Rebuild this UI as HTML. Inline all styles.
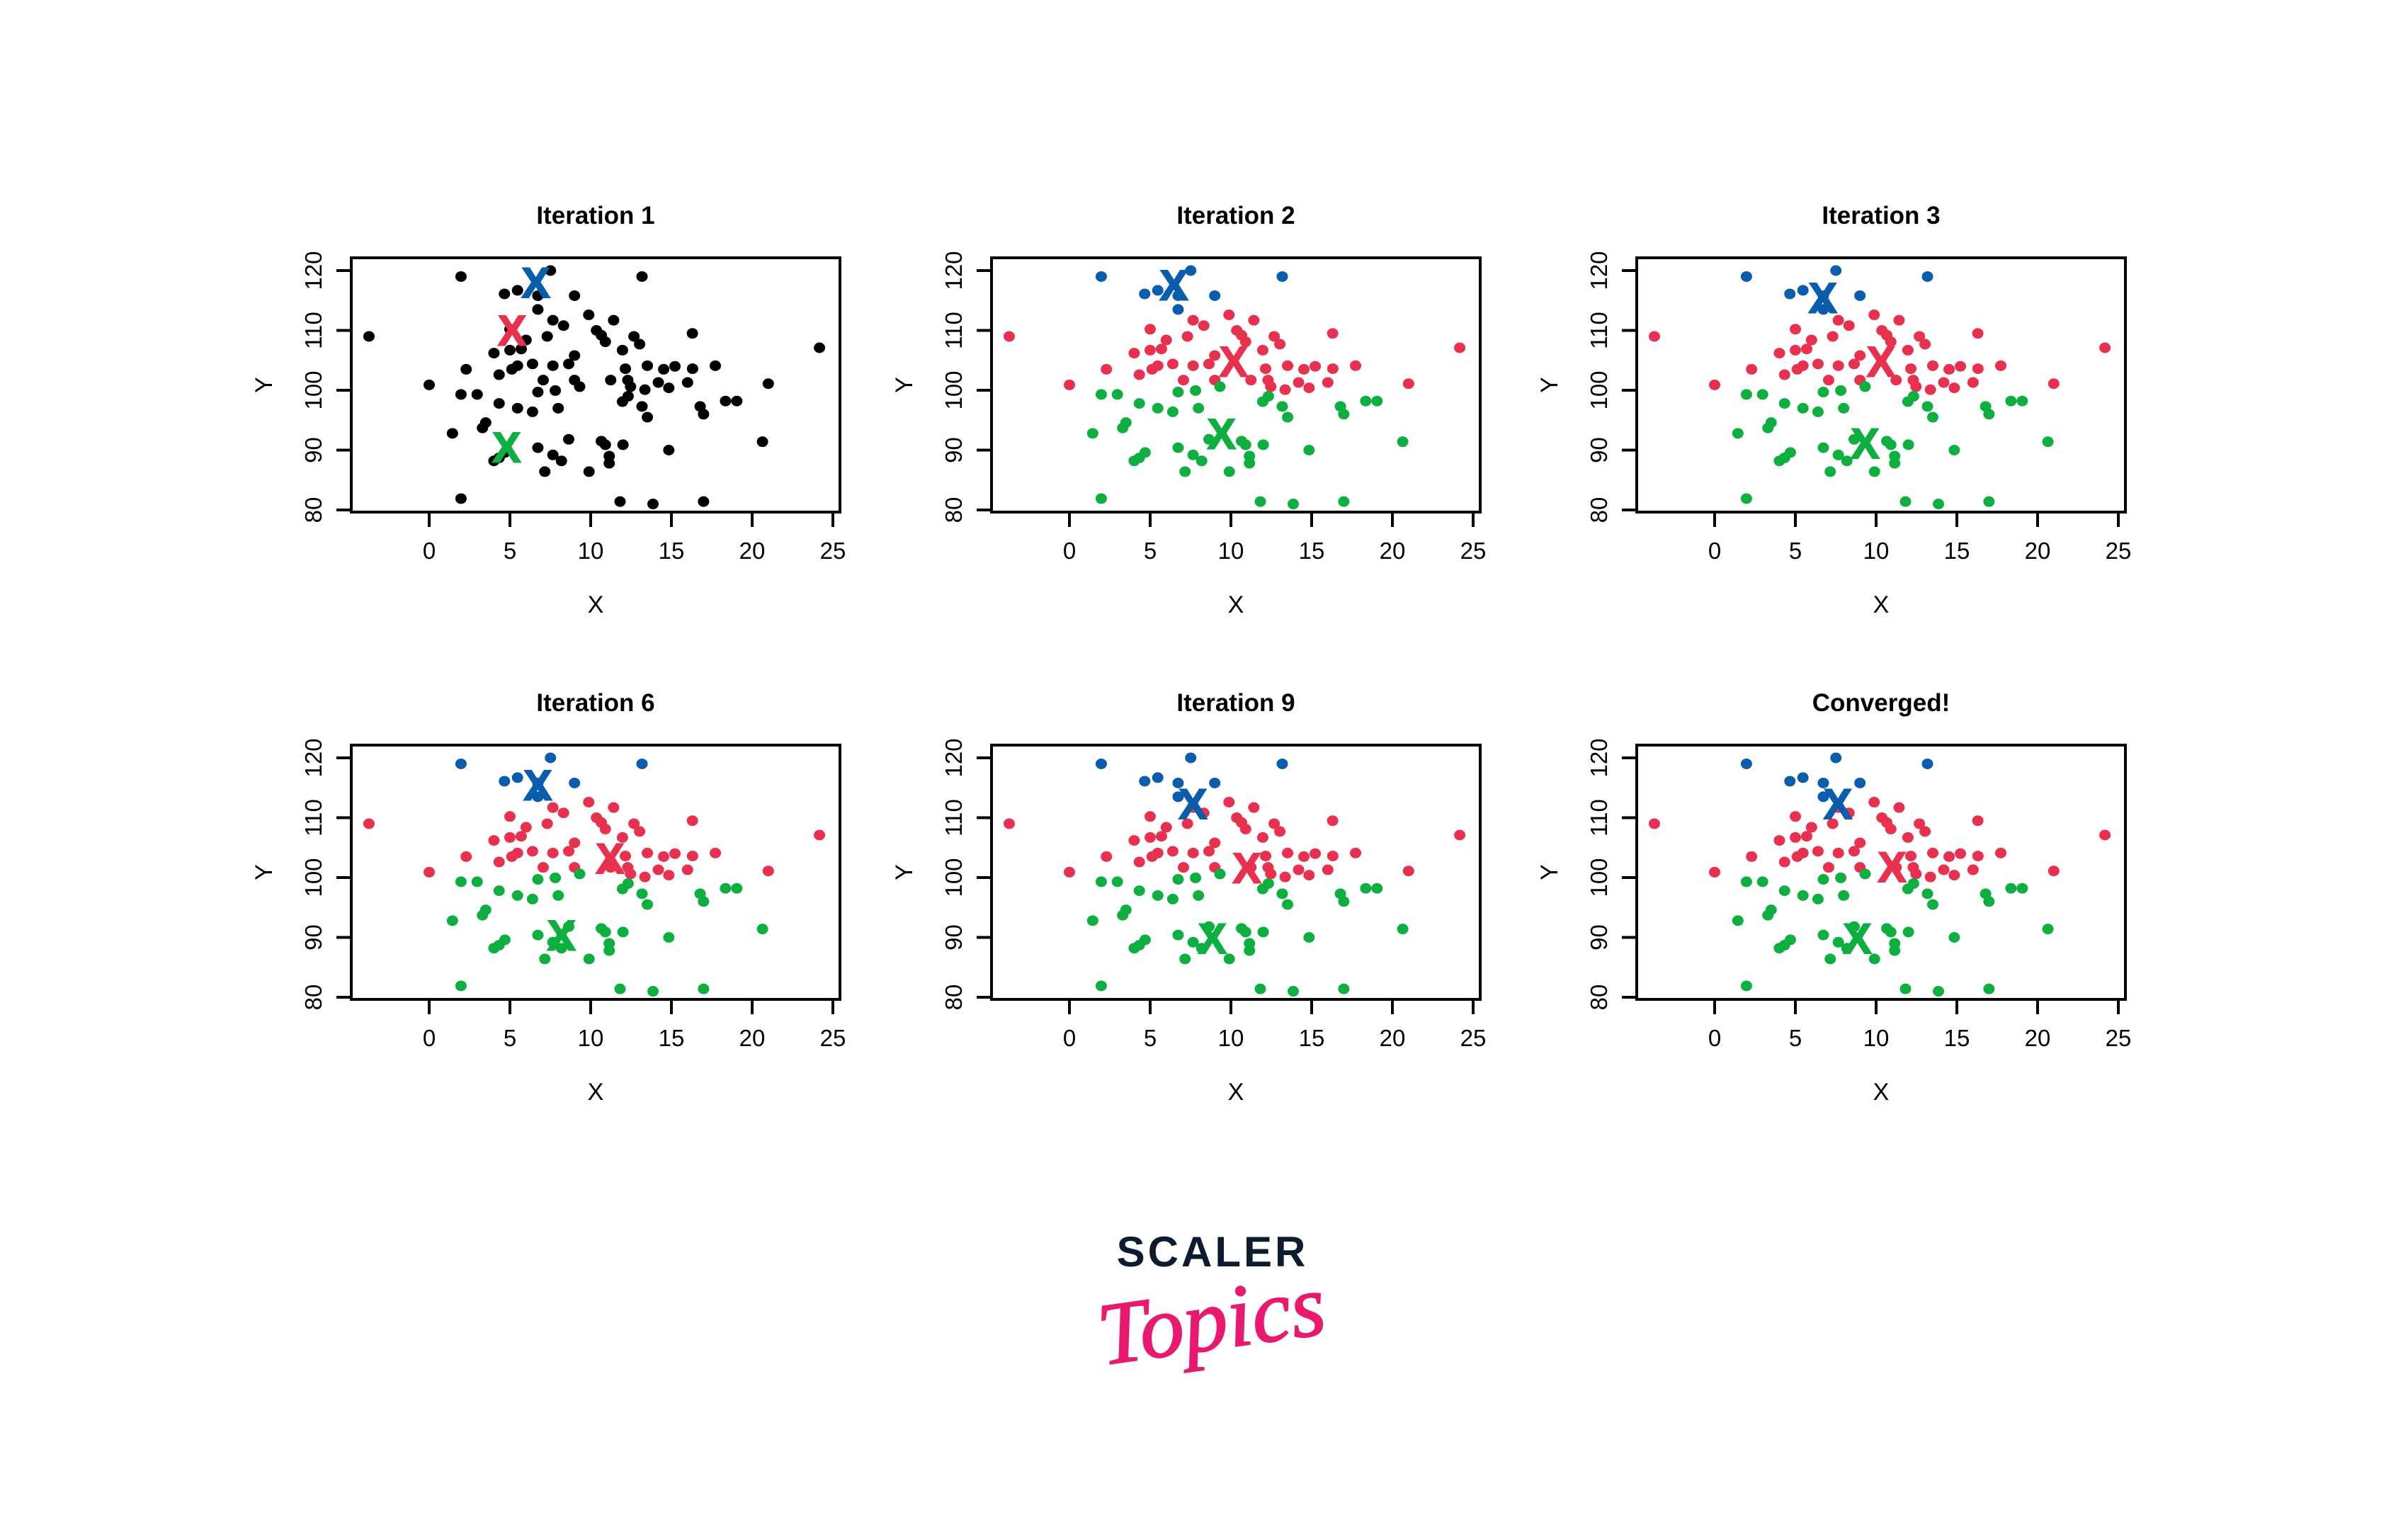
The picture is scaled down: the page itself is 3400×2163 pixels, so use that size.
<!DOCTYPE html>
<html><head><meta charset="utf-8"><style>
html,body{margin:0;padding:0;background:#fff;}
svg{display:block;}
</style></head><body>
<svg id="fig" width="3400" height="2163" viewBox="0 0 3400 2163" xmlns="http://www.w3.org/2000/svg">
<rect width="3400" height="2163" fill="#fff"/>
<g id="panels"></g>
<g>
<text x="1712" y="1788" text-anchor="middle" font-family="Liberation Sans, sans-serif" font-weight="bold" font-size="60" letter-spacing="4" fill="#0d1b2e">SCALER</text>
<text x="1712" y="1905" text-anchor="middle" font-family="Liberation Serif, serif" font-style="italic" font-size="125" fill="#e8196e" stroke="#e8196e" stroke-width="2" transform="rotate(-8 1712 1875)">Topics</text>
</g>
</svg>
<script>
// shared data points
const xs = [1.97,13.18,7.51,4.66,5.47,6.73,9.0,6.73,
9.88,11.42,7.66,8.32,16.3,-3.73,7.31,10.36,10.66,10.91,12.68,13.03,11.97,24.17,4.01,9.0,2.29,4.33,5.12,5.47,6.40,7.66,8.64,12.15,13.51,14.52,15.22,16.31,17.72,0,7.06,9.0,11.24,12.3,12.47,14.19,16.0,21.0,13.36,14.84,5.0,6.0,5.7,5.0,
1.97,2.97,6.73,7.81,9.32,12.32,11.97,4.33,5.47,6.40,7.99,13.18,13.51,16.78,16.99,18.35,19.05,3.5,3.30,1.44,8.64,10.66,10.91,12.0,14.84,20.64,6.73,7.66,8.19,7.16,4.01,4.33,4.69,1.97,11.82,13.86,16.99,9.9,11.15,11.15];
const ys = [119.0,119.0,120.0,116.1,116.7,115.8,115.8,113.5,
112.6,111.7,111.7,110.8,109.5,109.0,109.0,110.0,109.2,108.1,109.0,107.7,106.7,107.1,106.2,105.8,103.5,102.6,103.5,104.1,104.4,104.1,104.4,103.6,104.1,103.5,104.0,103.6,104.1,100.9,101.7,101.7,101.7,101.7,100.6,101.3,101.3,101.1,100.1,100.4,110.2,108.4,106.9,106.7,
99.3,99.3,99.7,99.95,100.6,99.0,98.1,97.8,97.0,96.4,97.0,97.3,95.5,97.3,96.0,98.2,98.2,94.6,93.7,92.8,91.8,91.5,90.9,90.9,90.0,91.4,90.4,89.2,88.2,86.4,88.2,88.7,89.6,81.9,81.4,81.0,81.4,86.4,89.0,87.8];
const labels = "bbbbbbbb"+"rrrrrrrrrrrrrrrrrrrrrrrrrrrrrrrrrrrrrrrrrrrr"+"gggggggggggggggggggggggggggggggggggggggg";
// panel titles and centroids
const titles = ["Iteration 1","Iteration 2","Iteration 3","Iteration 6","Iteration 9","Converged!"];
const blueCx = [6.6,6.47,6.70,6.73,7.65,7.63];
const blueCy = [118.0,117.6,115.45,115.45,112.3,112.3];
const redCx = [5.14,10.17,10.30,11.2,10.99,10.99];
const redCy = [110.0,104.8,104.77,103.2,101.6,101.8];
const greenCx = [4.79,9.42,9.32,8.19,8.85,8.84];
const greenCy = [90.5,92.7,91.1,90.35,89.8,89.8];
const xTicks = [0,5,10,15,20,25];
const yTicks = [80,90,100,110,120];

const NS="http://www.w3.org/2000/svg";
const COL={b:"#0a5cad",r:"#e8304f",g:"#0db040",k:"#000"};
const lefts=[496,1400,2311], tops=[364,1052], W=690, H=359;
const root=document.getElementById('panels');
function mk(tag,attrs,parent){const e=document.createElementNS(NS,tag);for(const k in attrs)e.setAttribute(k,attrs[k]);parent.appendChild(e);return e;}

titles.forEach((t,i)=>{
  const L=lefts[i%3], T=tops[Math.floor(i/3)];
  const sx=v=>L+110+v*22.8;
  const sy=v=>T+18+(120-v)*8.45;
  const g=mk('g',{},root);
  
  
  const tt=mk('text',{x:L+W/2,y:T-48,'text-anchor':'middle','font-family':'Liberation Sans, sans-serif','font-weight':'bold','font-size':'35',fill:'#000'},g);
  tt.textContent=t;
  
  
  const fr=mk('rect',{x:L,y:T,width:W,height:H,fill:'none',stroke:'#000','stroke-width':4},g);
  
  
  xTicks.forEach(v=>{
    const ln=mk('line',{x1:sx(v),x2:sx(v),y1:T+H,y2:T+H+21,stroke:'#000','stroke-width':4},g);
    
    
    const tx=mk('text',{x:sx(v),y:T+H+66,'text-anchor':'middle','font-family':'Liberation Sans, sans-serif','font-size':'33',fill:'#000'},g);
    tx.textContent=v;
    
    
  });
  yTicks.forEach(v=>{
    const ln=mk('line',{x1:L-21,x2:L,y1:sy(v),y2:sy(v),stroke:'#000','stroke-width':4},g);
    
    
    const tx=mk('text',{x:L-42,y:sy(v),'text-anchor':'middle','font-family':'Liberation Sans, sans-serif','font-size':'33',fill:'#000',transform:`rotate(-90 ${L-42} ${sy(v)})`},g);
    tx.textContent=v;
    
    
  });
  const xl=mk('text',{x:L+W/2,y:T+H+142,'text-anchor':'middle','font-family':'Liberation Sans, sans-serif','font-size':'34',fill:'#000'},g);
  xl.textContent='X';
  
  
  const yc=T+H/2;
  const yl=mk('text',{x:L-112,y:yc,'text-anchor':'middle','font-family':'Liberation Sans, sans-serif','font-size':'34',fill:'#000',transform:`rotate(-90 ${L-112} ${yc})`},g);
  yl.textContent='Y';
  
  
  xs.forEach((x,j)=>{
    const c=i===0?COL.k:COL[labels[j]];
    const p=mk('ellipse',{cx:sx(x),cy:sy(ys[j]),rx:8,ry:7.5,fill:c},g);
    
    
  });
  [[blueCx,blueCy,COL.b,'blue'],[redCx,redCy,COL.r,'red'],[greenCx,greenCy,COL.g,'green']].forEach(([cx,cy,c,n])=>{
    const m=mk('text',{x:sx(cx[i]),y:sy(cy[i])+21,'text-anchor':'middle','font-family':'Liberation Sans, sans-serif','font-weight':'bold','font-size':'60',fill:c,stroke:c,'stroke-width':2},g);
    m.textContent='X';
    
    
  });
});
</script>
</body></html>
